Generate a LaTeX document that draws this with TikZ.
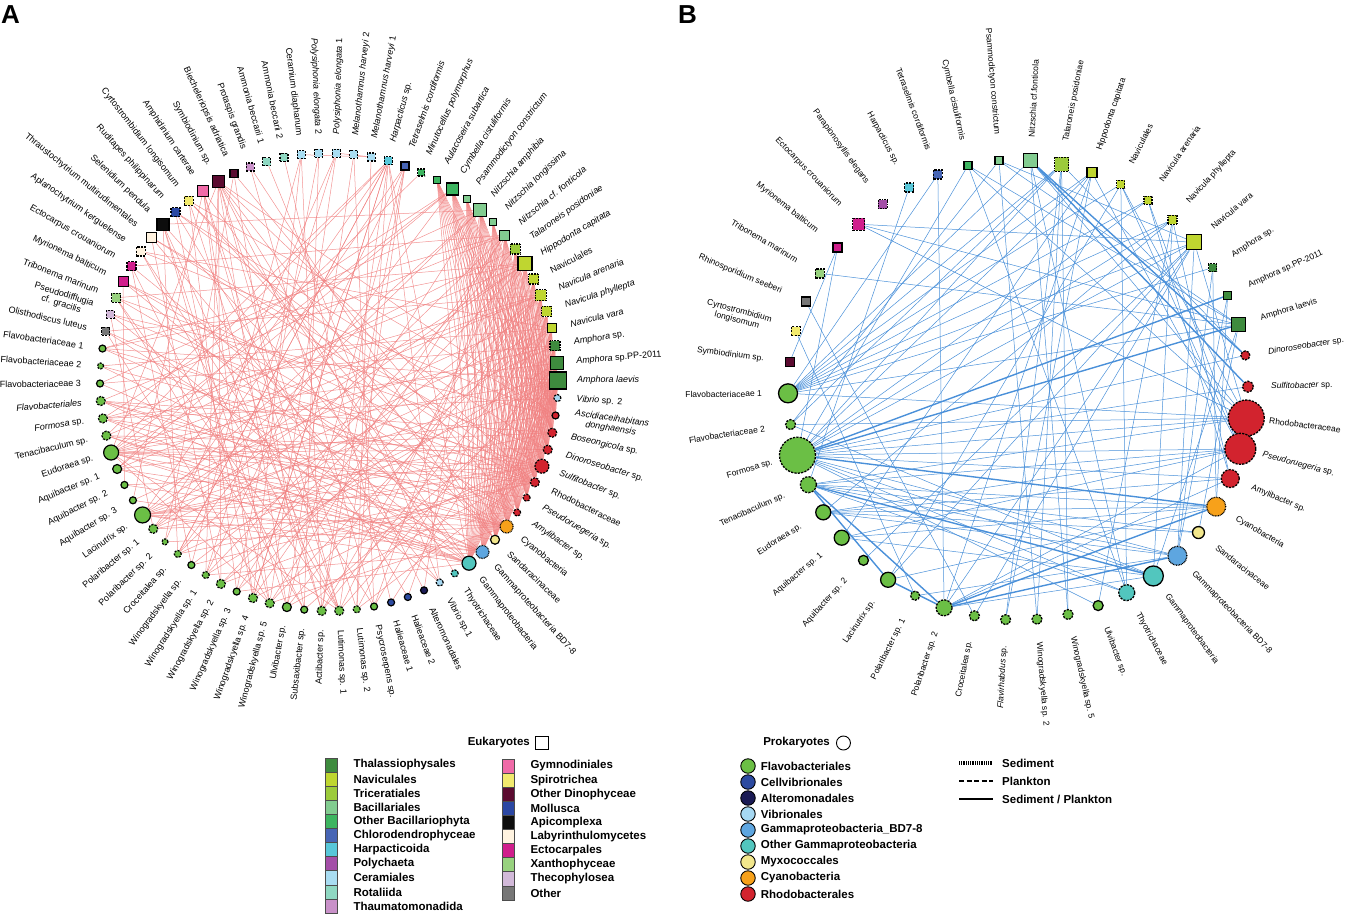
\documentclass[tikz,border=0pt]{standalone}
\usepackage{fontspec}
\setmainfont{Liberation Sans}
\usetikzlibrary{positioning,backgrounds}

% eukaryote groups
\definecolor{thal}{HTML}{3E8B3E}
\definecolor{navi}{HTML}{BFD630}
\definecolor{tric}{HTML}{9CCB3B}
\definecolor{baci}{HTML}{82CC90}
\definecolor{obac}{HTML}{3DB560}
\definecolor{chlo}{HTML}{4765B5}
\definecolor{harp}{HTML}{58C7D9}
\definecolor{poly}{HTML}{A44EA8}
\definecolor{cera}{HTML}{A9DDF2}
\definecolor{rota}{HTML}{8FD8C2}
\definecolor{thau}{HTML}{C991C9}
\definecolor{gymn}{HTML}{F06AA8}
\definecolor{spir}{HTML}{F2EA6E}
\definecolor{odin}{HTML}{5B0B30}
\definecolor{moll}{HTML}{2B47A3}
\definecolor{apic}{HTML}{0D0D0D}
\definecolor{laby}{HTML}{FFF3E0}
\definecolor{ecto}{HTML}{D01E8C}
\definecolor{xant}{HTML}{98D27F}
\definecolor{thec}{HTML}{D2B9D9}
\definecolor{oth}{HTML}{777777}
% prokaryote groups
\definecolor{flav}{HTML}{6BBF45}
\definecolor{cell}{HTML}{2C4AA0}
\definecolor{alte}{HTML}{1B1B55}
\definecolor{vibr}{HTML}{A6D8F2}
\definecolor{bd}{HTML}{5EA6E0}
\definecolor{ogam}{HTML}{52C6BE}
\definecolor{myxo}{HTML}{F2E78C}
\definecolor{cyan}{HTML}{F7A11A}
\definecolor{rhod}{HTML}{D2232E}
% edges
\definecolor{aline}{HTML}{F08080}
\definecolor{bline}{HTML}{4A90D9}

\newcommand\alab{\fontsize{9}{10}\selectfont}
\newcommand\blab{\fontsize{8.5}{9.5}\selectfont}

\tikzset{
  euk/.style={rectangle, draw=black, inner sep=0pt},
  prok/.style={circle, draw=black, inner sep=0pt},
  sedi/.style={dash pattern=on 0.8pt off 0.8pt},
  plank/.style={dash pattern=on 2.2pt off 1.2pt},
  sedplk/.style={solid},
  lab/.style={inner sep=0pt, align=center},
  aedge/.style={draw=aline, line width=0.5pt, opacity=0.85},
  bedge/.style={draw=bline, line width=0.5pt},
  bthick/.style={draw=bline, line width=1.4pt},
  swatch/.style={rectangle, draw=black!70, line width=0.6pt, minimum width=12pt, minimum height=14.1pt, inner sep=0pt},
  lgd/.style={font=\fontsize{11.5}{12}\selectfont\bfseries, inner sep=0pt}
}

\begin{document}
\begin{tikzpicture}[x=1pt,y=1pt]
\useasboundingbox (0,0) rectangle (1345,-914);

\node[font=\fontsize{26}{26}\selectfont\bfseries, anchor=north west, inner sep=0pt] (pa) at (1,-5) {A};
\node[font=\fontsize{26}{26}\selectfont\bfseries, anchor=north west, inner sep=0pt] (pb) at (678,-5) {B};

% panel A: 82 taxa on a circle
\begin{scope}[shift={(329,-382)}]
\foreach \n/\k/\b/\c/\w/\t in {
  0/euk/plank/oth/8/{Olisthodiscus luteus},
  1/euk/plank/thec/8/{Pseudodifflugia\\cf. gracilis},
  2/euk/plank/xant/9/{Tribonema marinum},
  3/euk/sedplk/ecto/10/{Myrionema balticum},
  4/euk/plank/ecto/9/{Ectocarpus crouaniorum},
  5/euk/plank/laby/9/{Aplanochytrium kerguelense},
  6/euk/sedplk/laby/10/{Thraustochytrium multirudimentales},
  7/euk/sedplk/apic/12/{Selenidium pendula},
  8/euk/plank/moll/9/{Ruditapes philippinarum},
  9/euk/plank/spir/9/{Cyrtostrombidium longisomum},
  10/euk/sedplk/gymn/11/{Amphidinium carterae},
  11/euk/sedplk/odin/12/{Symbiodinium sp.},
  12/euk/sedplk/odin/8/{Biecheleriopsis adriatica},
  13/euk/plank/thau/8/{Protaspis grandis},
  14/euk/plank/rota/8/{Ammonia beccarii 1},
  15/euk/plank/rota/8/{Ammonia beccarii 2},
  16/euk/plank/cera/8/{Ceramium diaphanum},
  17/euk/plank/cera/8/{\textit{Polysiphonia elongata} 2},
  18/euk/plank/cera/8/{\textit{Polysiphonia elongata} 1},
  19/euk/plank/cera/8/{\textit{Melanothamnus harveyi} 2},
  20/euk/plank/cera/8/{\textit{Melanothamnus harveyi} 1},
  21/euk/plank/harp/8/{\textit{Harpacticus} sp.},
  22/euk/sedplk/chlo/8/{\textit{Tetraselmis cordiformis}},
  23/euk/plank/obac/7/{\textit{Minutocellus polymorphus}},
  24/euk/sedplk/obac/7/{\textit{Aulacoseira subartica}},
  25/euk/sedplk/obac/12/{\textit{Cymbella cistuliformis}},
  26/euk/sedplk/baci/7/{\textit{Psammodictyon constrictum}},
  27/euk/sedplk/baci/13/{\textit{Nitzschia amphibia}},
  28/euk/sedplk/baci/7/{\textit{Nitzschia longissima}},
  29/euk/sedplk/baci/10/{\textit{Nitzschia cf. fonticola}},
  30/euk/sedi/tric/10/{\textit{Talaroneis posidoniae}},
  31/euk/sedplk/navi/14/{\textit{Hippodonta capitata}},
  32/euk/sedi/navi/10/{Naviculales},
  33/euk/sedi/navi/11/{\textit{Navicula arenaria}},
  34/euk/sedi/navi/10/{\textit{Navicula phyllepta}},
  35/euk/sedplk/navi/9/{\textit{Navicula vara}},
  36/euk/sedi/thal/10/{\textit{Amphora} sp.},
  37/euk/sedplk/thal/13/{\textit{Amphora} sp.PP-2011},
  38/euk/sedplk/thal/17/{\textit{Amphora laevis}},
  39/prok/plank/vibr/7/{\textit{Vibrio} sp. 2},
  40/prok/sedplk/rhod/7/{\textit{Ascidiaceihabitans}\\\textit{donghaensis}},
  41/prok/plank/rhod/9/{\textit{Boseongicola} sp.},
  42/prok/plank/rhod/9/{\textit{Dinoroseobacter} sp.},
  43/prok/plank/rhod/14/{\textit{Sulfitobacter} sp.},
  44/prok/plank/rhod/9/{Rhodobacteraceae},
  45/prok/plank/rhod/7/{\textit{Pseudoruegeria} sp.},
  46/prok/plank/rhod/7/{\textit{Amylibacter} sp.},
  47/prok/sedi/cyan/13/{Cyanobacteria},
  48/prok/sedplk/myxo/9/{Sandaracinaceae},
  49/prok/sedi/bd/13/{Gammaproteobacteria BD7-8},
  50/prok/sedplk/ogam/14/{Gammaproteobacteria},
  51/prok/plank/ogam/7/{Thyotrichaceae},
  52/prok/plank/vibr/7/{Vibrio sp.1},
  53/prok/sedplk/alte/7/{Alteromonadales},
  54/prok/sedplk/cell/7/{Halieaceae 2},
  55/prok/sedplk/cell/7/{Halieaceae 1},
  56/prok/sedplk/flav/7/{Psycroserpens sp.},
  57/prok/plank/flav/7/{Lutimonas sp. 2},
  58/prok/plank/flav/9/{Lutimonas sp. 1},
  59/prok/plank/flav/9/{Actibacter sp.},
  60/prok/sedplk/flav/7/{Subsaxibacter sp.},
  61/prok/sedplk/flav/9/{Ulvibacter sp.},
  62/prok/plank/flav/9/{Winogradskyella sp. 5},
  63/prok/plank/flav/9/{Winogradskyella sp. 4},
  64/prok/sedplk/flav/7/{Winogradskyella sp. 3},
  65/prok/plank/flav/9/{Winogradskyella sp. 2},
  66/prok/plank/flav/7/{Winogradskyella sp. 1},
  67/prok/sedplk/flav/7/{Winogradskyella sp.},
  68/prok/plank/flav/7/{Croceitalea sp.},
  69/prok/plank/flav/6/{Polaribacter sp. 2},
  70/prok/plank/flav/9/{Polaribacter sp. 1},
  71/prok/sedplk/flav/16/{Lacinutrix sp.},
  72/prok/sedplk/flav/7/{Aquibacter sp. 3},
  73/prok/sedplk/flav/7/{Aquibacter sp. 2},
  74/prok/sedplk/flav/9/{Aquibacter sp. 1},
  75/prok/sedplk/flav/15/{Eudoraea sp.},
  76/prok/plank/flav/9/{Tenacibaculum sp.},
  77/prok/plank/flav/9/{\textit{Formosa} sp.},
  78/prok/plank/flav/9/{\textit{Flavobacteriales}},
  79/prok/sedplk/flav/7/{Flavobacteriaceae 3},
  80/prok/plank/flav/6/{Flavobacteriaceae 2},
  81/prok/sedplk/flav/7/{Flavobacteriaceae 1}}{
  \pgfmathsetmacro\ang{mod(167.2-\n/82*360+540,360)-180}
  \node[\k, \b, fill=\c, minimum size=\w pt, line width=1.2pt] (a\n) at (\ang:229) {};
  \pgfmathtruncatemacro\rgt{abs(\ang)<90}
  \ifnum\rgt=1
    \node[lab, font=\alab, rotate=\ang, anchor=west] (at\n) at (\ang:248) {\t};
  \else
    \pgfmathsetmacro\rot{\ang-180*sign(\ang)}
    \node[lab, font=\alab, rotate=\rot, anchor=east] (at\n) at (\ang:248) {\t};
  \fi
}
\end{scope}

% panel B: 46 taxa on a circle
\begin{scope}[shift={(1018,-390)}]
\foreach \n/\k/\b/\c/\w/\t in {
  0/euk/sedplk/odin/9/{Symbiodinium sp.},
  1/euk/plank/spir/9/{Cyrtostrombidium\\longisomum},
  2/euk/sedplk/oth/9/{Rhinosporidium seeberi},
  3/euk/plank/xant/9/{Tribonema marinum},
  4/euk/sedplk/ecto/9/{Myrionema balticum},
  5/euk/plank/ecto/12/{Ectocarpus crouaniorum},
  6/euk/sedi/poly/9/{Parapionosyllis elegans},
  7/euk/plank/harp/9/{Harpacticus sp.},
  8/euk/plank/chlo/9/{Tetraselmis cordiformis},
  9/euk/sedplk/obac/8/{Cymbella cistuliformis},
  10/euk/sedplk/baci/8/{Psammodictyon constrictum},
  11/euk/sedplk/baci/14/{Nitzschia cf.fonticola},
  12/euk/sedi/tric/14/{Talaroneis posidoniae},
  13/euk/sedplk/navi/10/{Hippodonta capitata},
  14/euk/sedi/navi/8/{Naviculales},
  15/euk/sedi/navi/8/{Navicula arenaria},
  16/euk/sedi/navi/9/{Navicula phyllepta},
  17/euk/sedplk/navi/15/{Navicula vara},
  18/euk/sedi/thal/8/{Amphora sp.},
  19/euk/sedplk/thal/8/{Amphora sp.PP-2011},
  20/euk/sedplk/thal/14/{Amphora laevis},
  21/prok/plank/rhod/9/{\textit{Dinoroseobacter} sp.},
  22/prok/plank/rhod/11/{\textit{Sulfitobacter} sp.},
  23/prok/plank/rhod/36/{Rhodobacteraceae},
  24/prok/plank/rhod/31/{\textit{Pseudoruegeria} sp.},
  25/prok/plank/rhod/18/{Amylibacter sp.},
  26/prok/sedi/cyan/19/{Cyanobacteria},
  27/prok/sedplk/myxo/12/{Sandaracinaceae},
  28/prok/sedi/bd/19/{Gammaproteobacteria BD7-8},
  29/prok/sedplk/ogam/20/{Gammaproteobacteria},
  30/prok/plank/ogam/16/{Thyotrichaceae},
  31/prok/sedplk/flav/10/{Ulvibacter sp.},
  32/prok/plank/flav/10/{Winogradskyella sp. 5},
  33/prok/plank/flav/10/{Winogradskyella sp. 2},
  34/prok/plank/flav/10/{\textit{Flavirhabdus} sp.},
  35/prok/plank/flav/10/{Croceitalea sp.},
  36/prok/plank/flav/16/{Polaribacter sp. 2},
  37/prok/plank/flav/9/{Polaribacter sp. 1},
  38/prok/sedplk/flav/15/{Lacinutrix sp.},
  39/prok/sedplk/flav/10/{Aquibacter sp. 2},
  40/prok/sedplk/flav/15/{Aquibacter sp. 1},
  41/prok/sedplk/flav/15/{Eudoraea sp.},
  42/prok/plank/flav/16/{Tenacibaculum sp.},
  43/prok/plank/flav/36/{Formosa sp.},
  44/prok/plank/flav/10/{Flavobacteriaceae 2},
  45/prok/sedplk/flav/19/{Flavobacteriaceae 1}}{
  \pgfmathsetmacro\ang{mod(173-\n/46*360+540,360)-180}
  \node[\k, \b, fill=\c, minimum size=\w pt, line width=1.3pt] (b\n) at (\ang:230) {};
  \pgfmathtruncatemacro\rgt{abs(\ang)<90}
  \ifnum\rgt=1
    \node[lab, font=\blab, rotate=\ang, anchor=west] (bt\n) at (\ang:253) {\t};
  \else
    \pgfmathsetmacro\rot{\ang-180*sign(\ang)}
    \node[lab, font=\blab, rotate=\rot, anchor=east] (bt\n) at (\ang:256) {\t};
  \fi
}
\end{scope}

\begin{pgfonlayer}{background}
% panel A: diatoms to Rhodobacterales bundle
\foreach \s in {24,...,38}
  \foreach \t in {40,...,50}
    \draw[aedge] (a\s) -- (a\t);
% panel A: other links
\foreach \s/\tl in {
  75/{30,33,36,38,41,42,43,44,47,49,50,58,25,62},
  71/{38,41,42,43,44,47,49,50,31,27,35},
  81/{43,47,29,31,38}, 80/{44,35,49}, 79/{49,36,27}, 78/{41,43,29,46,47,50},
  77/{44,47,50,33,39,25,37}, 76/{42,49,31,21,45,50}, 74/{47,50,25,40,33},
  73/{43,48}, 72/{49,34}, 70/{36,43,31,46,22,27}, 69/{47,12},
  68/{38,29,21,44,25}, 67/{33,44,16}, 66/{30,49,18,37}, 65/{31,35,11,43},
  64/{27,50,9,33}, 63/{42,29,21,10}, 62/{34,47,18,7,29}, 61/{33,43,11,22},
  60/{38,12,17,4}, 59/{31,35,21,10,16}, 58/{30,37,22,11,7,2}, 57/{32,43},
  56/{29,19,5,34}, 55/{36}, 54/{31,8}, 53/{27}, 52/{21,6,1}, 51/{11},
  50/{3}, 48/{9,13}, 46/{0,3}, 44/{1,6}, 42/{2,8}, 40/{5,9},
  0/{33,50,62}, 1/{40,70}, 2/{47,60,31}, 3/{44,73}, 4/{49,67,29},
  5/{58,35}, 6/{43,65}, 7/{50,61,68,27}, 8/{44,63}, 9/{59,47},
  10/{50,58,62,72}, 11/{40,44,48,53,57,66,75}, 12/{46}, 13/{56},
  14/{52}, 15/{55}, 16/{63}, 17/{64}, 18/{20,69}, 19/{61},
  20/{57,16}, 21/{50,57,63,68,71,75}, 22/{59,66}, 23/{74}}
  \foreach \t in \tl
    \draw[aedge] (a\s) -- (a\t);

% panel B: links
\foreach \s/\tl in {
  45/{11,12,13,14,15,16,17,18,20,8,23}, 44/{23,29,10,12},
  43/{12,13,15,16,17,21,22,23,24,25,28,29,30,9},
  42/{23,24,26,30,7,27,28}, 41/{24,25,27,28,16,26}, 40/{24,29,13,26}, 39/{17},
  38/{17,26,14}, 37/{28,1}, 36/{24,25,29,8,17,13}, 35/{2,17},
  34/{13,12}, 33/{10,12}, 32/{12,11}, 31/{43,16}, 30/{9,11,14},
  29/{16,20}, 28/{17,18,19}, 27/{20}, 26/{19,18}, 25/{16,15},
  24/{14,13,15}, 23/{11,5,9,14,17}, 21/{12}, 20/{3,5,9,10},
  17/{5,10}, 0/{4}, 4/{43}}
  \foreach \t in \tl
    \draw[bedge] (b\s) -- (b\t);
\foreach \s/\tl in {11/{21,22}, 43/{19,20,26}, 42/{29,36,38}, 36/{26,28}, 38/{36}}
  \foreach \t in \tl
    \draw[bthick] (b\s) -- (b\t);
\end{pgfonlayer}

% legend: eukaryotes
\node[lgd, anchor=east] (eukhead) at (530,-743) {Eukaryotes};
\node[euk, line width=0.9pt, minimum size=13pt, right=5pt of eukhead] (eukbox) {};
\foreach \c/\t [count=\k from 0] in {thal/Thalassiophysales, navi/Naviculales,
  tric/Triceratiales, baci/Bacillariales, obac/Other Bacillariophyta,
  chlo/Chlorodendrophyceae, harp/Harpacticoida, poly/Polychaeta,
  cera/Ceramiales, rota/Rotaliida, thau/Thaumatomonadida}{
  \node[swatch, fill=\c] (ksw\k) at (331,-765-14.1*\k) {};
  \node[lgd, right=16pt of ksw\k] (ktx\k) {\t};
}
\foreach \c/\t [count=\k from 0] in {gymn/Gymnodiniales, spir/Spirotrichea,
  odin/Other Dinophyceae, moll/Mollusca, apic/Apicomplexa,
  laby/Labyrinthulomycetes, ecto/Ectocarpales, xant/Xanthophyceae,
  thec/Thecophylosea, oth/Other}{
  \node[swatch, fill=\c] (jsw\k) at (508,-766-14.1*\k) {};
  \node[lgd, right=16pt of jsw\k] (jtx\k) {\t};
}

% legend: prokaryotes
\node[lgd, anchor=east] (prohead) at (830,-743) {Prokaryotes};
\node[prok, line width=0.9pt, minimum size=14pt, right=6pt of prohead] (probox) {};
\foreach \c/\t [count=\k from 0] in {flav/Flavobacteriales, cell/Cellvibrionales,
  alte/Alteromonadales, vibr/Vibrionales, bd/Gammaproteobacteria\_BD7-8,
  ogam/Other Gammaproteobacteria, myxo/Myxococcales, cyan/Cyanobacteria,
  rhod/Rhodobacterales}{
  \node[prok, fill=\c, line width=0.9pt, minimum size=14.5pt] (psw\k) at (748,-766-16*\k) {};
  \node[lgd, right=5pt of psw\k] (ptx\k) {\t};
}

% legend: border styles
\coordinate (sedA) at (959,-763);
\coordinate (sedB) at (993,-763);
\coordinate (plkA) at (959,-781);
\coordinate (plkB) at (993,-781);
\coordinate (bthA) at (959,-799);
\coordinate (bthB) at (993,-799);
\draw[line width=3.5pt, dash pattern=on 0.9pt off 0.9pt] (sedA) -- (sedB);
\draw[line width=2pt, dash pattern=on 5pt off 2.5pt] (plkA) -- (plkB);
\draw[line width=2.6pt] (bthA) -- (bthB);
\node[lgd, right=9pt of sedB] (sedtx) {Sediment};
\node[lgd, right=9pt of plkB] (plktx) {Plankton};
\node[lgd, right=9pt of bthB] (bthtx) {Sediment / Plankton};
\end{tikzpicture}
\end{document}
